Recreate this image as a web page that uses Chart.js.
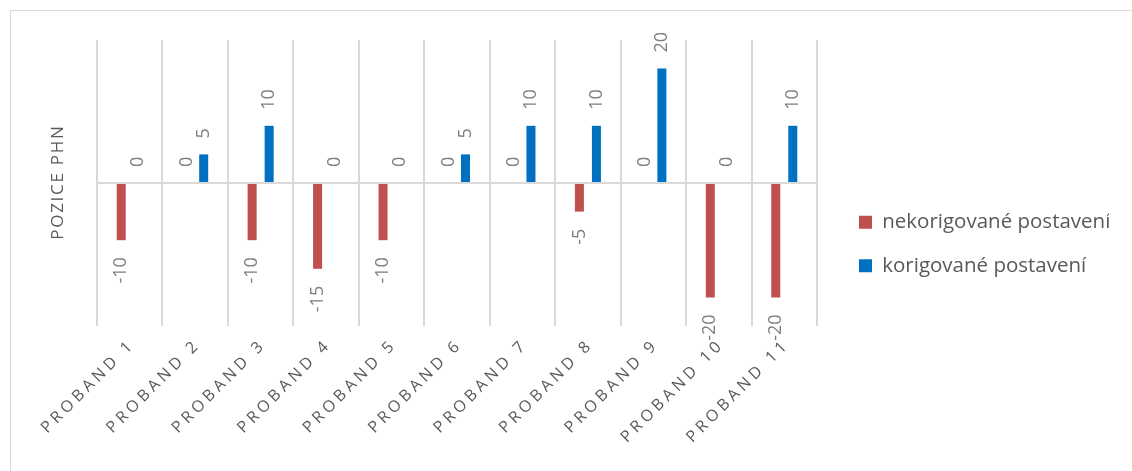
<!DOCTYPE html>
<html lang="cs">
<head>
  <meta charset="UTF-8">
  <title>Pozice PHN</title>
  <style>
    * { box-sizing: border-box; margin: 0; padding: 0; }
    html, body { width: 1132px; height: 471px; overflow: hidden; background: #fff; }
    .frame {
      position: absolute; left: 10px; top: 10px;
      width: 1300px; height: 700px;
      border: 1px solid #d9d9d9;
    }
    .wrap { position: absolute; left: 0; top: 0; width: 1132px; height: 471px; }
  </style>
  <script src="https://cdn.jsdelivr.net/npm/chart.js"></script>
</head>
<body>
  <div class="frame"></div>
  <div class="wrap"><canvas id="chart"></canvas></div>

  <script>
    const categories = ['PROBAND 1', 'PROBAND 2', 'PROBAND 3', 'PROBAND 4', 'PROBAND 5', 'PROBAND 6',
                        'PROBAND 7', 'PROBAND 8', 'PROBAND 9', 'PROBAND 10', 'PROBAND 11'];
    const nekorigovane = [-10, 0, -10, -15, -10, 0, 0, -5, 0, -20, -20];
    const korigovane = [0, 5, 10, 0, 0, 5, 10, 10, 20, 0, 10];
    const seriesNames = ['nekorigované postavení', 'korigované postavení'];
    const yTitle = 'POZICE PHN';

    const FONT = '"Open Sans", "DejaVu Sans", sans-serif';
    // fake letter spacing with narrow unicode spaces
    const spaced = (s, sp) => s.split('').join(sp);

    // value labels, rotated, just past the end of each bar
    const barLabels = {
      id: 'barLabels',
      afterDatasetsDraw(chart) {
        const ctx = chart.ctx;
        chart.data.datasets.forEach((ds, i) => {
          chart.getDatasetMeta(i).data.forEach((bar, j) => {
            const v = ds.data[j];
            ctx.save();
            ctx.font = '18px ' + FONT;
            ctx.fillStyle = '#7f7f7f';
            ctx.textBaseline = 'middle';
            ctx.translate(bar.x, v >= 0 ? bar.y - 16 : bar.y + 17);
            ctx.rotate(-Math.PI / 2);
            ctx.textAlign = v >= 0 ? 'left' : 'right';
            ctx.fillText(String(v), 0, 0);
            ctx.restore();
          });
        });
      }
    };

    // push the legend a bit away from the plot
    const legendShift = {
      id: 'legendShift',
      beforeDraw(chart) {
        const lg = chart.legend;
        const w = lg.right - lg.left;
        lg.left = chart.chartArea.right + 19;
        lg.right = lg.left + w;
      }
    };

    new Chart(document.getElementById('chart'), {
      type: 'bar',
      data: {
        labels: categories,
        datasets: [
          { label: seriesNames[0], data: nekorigovane, backgroundColor: '#C0504D' },
          { label: seriesNames[1], data: korigovane, backgroundColor: '#0070C0' }
        ]
      },
      options: {
        responsive: true,
        maintainAspectRatio: false,
        animation: false,
        categoryPercentage: 0.52,
        barPercentage: 0.53,
        layout: { padding: { left: 10, top: 40, bottom: 23, right: 42 } },
        scales: {
          x: {
            grid: { color: '#d9d9d9', lineWidth: 2, drawTicks: false, offset: true },
            border: { display: false },
            afterFit: s => { s.height = 122; },
            ticks: {
              color: '#595959',
              font: { family: FONT, size: 16 },
              minRotation: 45, maxRotation: 45,
              padding: 12,
              autoSkip: false,
              callback: function (v) { return spaced(this.getLabelForValue(v), '\u2005'); }
            }
          },
          y: {
            min: -25, max: 25,
            ticks: { display: false, stepSize: 5 },
            grid: {
              drawTicks: false,
              lineWidth: 2,
              color: c => c.tick && c.tick.value === 0 ? '#d9d9d9' : 'rgba(0,0,0,0)'
            },
            border: { display: false },
            title: {
              display: true,
              text: spaced(yTitle, '\u200A'),
              color: '#595959',
              font: { family: FONT, size: 17 },
              padding: { top: 37.8, bottom: 28.8 }
            }
          }
        },
        plugins: {
          legend: {
            position: 'right',
            maxWidth: 273,
            labels: {
              color: '#595959',
              font: { family: FONT, size: 20.5 },
              boxWidth: 13, boxHeight: 13,
              padding: 23
            }
          },
          tooltip: { enabled: false }
        }
      },
      plugins: [barLabels, legendShift]
    });
  </script>
</body>
</html>
